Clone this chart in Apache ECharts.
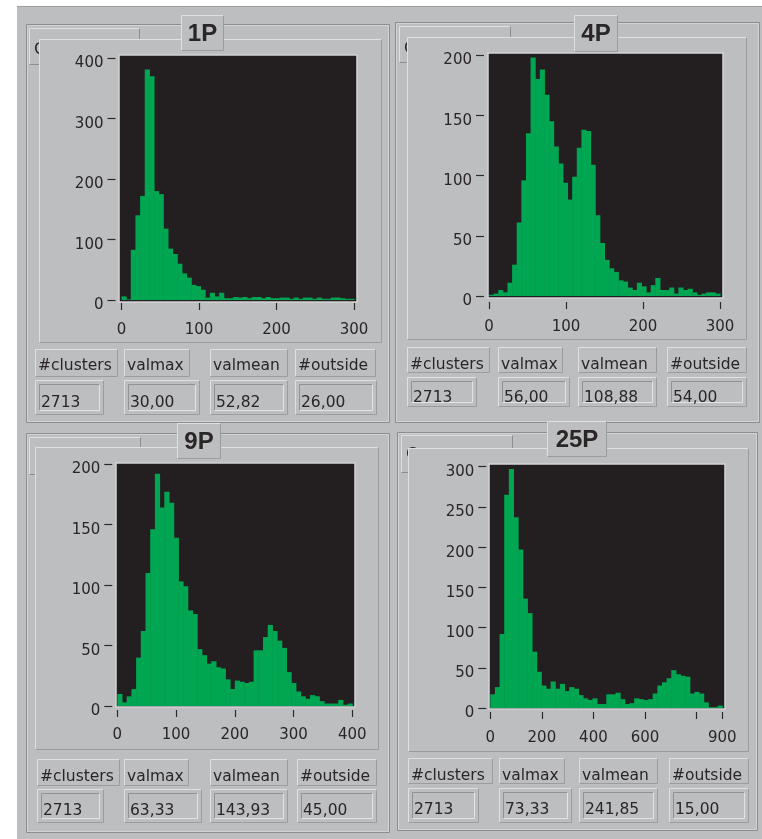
<!DOCTYPE html>
<html><head><meta charset="utf-8">
<script src="https://cdn.jsdelivr.net/npm/echarts@6/dist/echarts.min.js"></script>
<style>html,body{margin:0;padding:0;background:#fff}#c{width:762px;height:839px}</style>
</head><body><div id="c"></div>
<script>
// ---------------- DATA ----------------
const panelTitles = ['1P', '4P', '9P', '25P'];
const statNames = ['#clusters', 'valmax', 'valmean', '#outside'];
const stats1P = ['2713', '30,00', '52,82', '26,00'];
const stats4P = ['2713', '56,00', '108,88', '54,00'];
const stats9P = ['2713', '63,33', '143,93', '45,00'];
const stats25P = ['2713', '73,33', '241,85', '15,00'];

const binWidth1P = 6, binWidth4P = 6, binWidth9P = 8, binWidth25P = 18;
const counts1P = [6, 1, 83, 140, 172, 381, 370, 180, 175, 118, 85, 76, 60, 44, 37, 25, 23, 17, 4, 12,
  6, 12, 3, 3, 5, 4, 5, 3, 5, 5, 3, 5, 3, 3, 4, 4, 2, 4, 2, 4, 4, 2, 4, 2, 2, 4, 4, 3, 2, 2];
const counts4P = [1, 2, 5, 3, 11, 26, 61, 96, 135, 198, 180, 188, 167, 145, 124, 110, 94, 80, 99, 123,
  138, 137, 109, 67, 44, 30, 23, 20, 13, 12, 7, 5, 11, 8, 3, 9, 15, 5, 5, 7, 2, 7, 5, 6, 3, 1, 2, 3, 3, 2];
const counts9P = [10, 3, 8, 14, 40, 62, 110, 146, 192, 164, 177, 168, 139, 103, 99, 79, 76, 47, 42, 35,
  37, 32, 31, 22, 14, 21, 20, 19, 20, 46, 46, 57, 67, 62, 54, 48, 28, 19, 12, 8, 6, 9, 8, 4, 2, 2, 2, 5, 1, 2];
const counts25P = [17, 26, 92, 265, 297, 237, 197, 136, 118, 70, 45, 28, 24, 33, 24, 30, 21, 26, 24, 16,
  12, 10, 12, 5, 5, 17, 17, 19, 11, 5, 6, 12, 11, 10, 11, 18, 28, 32, 37, 47, 42, 40, 39, 18, 20, 18, 7, 1, 1, 3];

const xTickLabels = [[0, 100, 200, 300], [0, 100, 200, 300], [0, 100, 200, 300, 400], [0, 200, 400, 600, 900]];
const yTickLabels = [[0, 100, 200, 300, 400], [0, 50, 100, 150, 200], [0, 50, 100, 150, 200], [0, 50, 100, 150, 200, 250, 300]];
const xMax = [300, 300, 400, 900];
const yMax = [400, 200, 200, 300];
const xStep = [100, 100, 100, 200];
const yStep = [100, 50, 50, 50];

const allCounts = [counts1P, counts4P, counts9P, counts25P];
const allBinWidths = [binWidth1P, binWidth4P, binWidth9P, binWidth25P];
const allStats = [stats1P, stats4P, stats9P, stats25P];

// ---------------- LAYOUT / STYLE ----------------
const GRAY = '#bcbec0', DARK = '#231f20', GREEN = '#00a651';
const LIGHT = '#dfe0e1', SHADE = '#8b8d90', TXT = '#2a2627';
const FONT = '"DejaVu Sans", Verdana, sans-serif';

const layout = [
  { outer: [26, 24, 364, 399], back: [29, 28, 111, 37], backText: [34, 50], inner: [39, 39, 343, 304],
    title: [181, 15, 43, 36], dark: [119, 55, 238, 247],
    grid: { left: 121.5, top: 58, width: 232.5, height: 242 }, yOff: 6, xOff: 3, xMargin: 19.5,
    lab: [[35, 83], [124, 66], [210, 78], [295, 81]], labY: [349, 28], labTY: 366,
    val: [[35, 69], [124, 76], [210, 78], [295, 82]], valY: [380, 35], valTY: 403 },
  { outer: [395, 22, 365, 401], back: [399, 26, 112, 37], backText: [404, 49], inner: [407, 37, 340, 303],
    title: [574, 15, 44, 37], dark: [488, 53, 235, 245],
    grid: { left: 489, top: 55, width: 231, height: 241 }, yOff: 5, xOff: 6, xMargin: 17.5,
    lab: [[407, 83], [498, 65], [578, 79], [667, 80]], labY: [347, 26], labTY: 365,
    val: [[407, 70], [498, 72], [578, 79], [667, 80]], valY: [377, 30], valTY: 398 },
  { outer: [26, 433, 364, 400], back: [29, 437, 112, 38], backText: [37, 455], inner: [35, 447, 344, 303],
    title: [177, 423, 44, 36], dark: [116, 463, 239, 244],
    grid: { left: 117.3, top: 464, width: 235, height: 242 }, yOff: 5, xOff: 4, xMargin: 17.5,
    lab: [[37, 83], [124, 65], [210, 78], [297, 80]], labY: [759, 27], labTY: 777,
    val: [[37, 67], [124, 78], [210, 78], [297, 80]], valY: [789, 34], valTY: 811 },
  { outer: [397, 432, 361, 399], back: [401, 435, 112, 38], backText: [406, 455], inner: [408, 448, 341, 304],
    title: [547, 421, 60, 36], dark: [489, 464, 236, 245],
    grid: { left: 490.3, top: 466.7, width: 232, height: 241.3 }, yOff: 4, xOff: 4, xMargin: 18.5,
    lab: [[408, 85], [499, 66], [579, 79], [669, 80]], labY: [758, 26], labTY: 776,
    val: [[408, 71], [499, 73], [579, 79], [669, 80]], valY: [788, 35], valTY: 810 }
];

function bevel(x, y, w, h, tl, br, fill) {
  const els = [];
  if (fill) els.push({ type: 'rect', shape: { x, y, width: w, height: h }, style: { fill } });
  const X = Math.round(x) + 0.5, Y = Math.round(y) + 0.5, X2 = Math.round(x + w) - 0.5, Y2 = Math.round(y + h) - 0.5;
  els.push({ type: 'polyline', shape: { points: [[X, Y2], [X, Y], [X2, Y]] }, style: { stroke: tl, lineWidth: 1, fill: 'none' } });
  els.push({ type: 'polyline', shape: { points: [[X2, Y], [X2, Y2], [X, Y2]] }, style: { stroke: br, lineWidth: 1, fill: 'none' } });
  return els;
}
function txt(s, x, y, font, align) {
  return { type: 'text', x, y, style: { text: s, font, fill: TXT, align: align || 'left', verticalAlign: 'middle', textAlign: align || 'left', textVerticalAlign: 'middle' } };
}

const elements = [];
elements.push({ type: 'rect', shape: { x: 17, y: 6, width: 745, height: 833 }, style: { fill: GRAY } });
elements.push({ type: 'line', shape: { x1: 17, y1: 6.5, x2: 762, y2: 6.5 }, style: { stroke: '#9c9ea0', lineWidth: 1 } });

layout.forEach((L, i) => {
  const [ox, oy, ow, oh] = L.outer;
  elements.push({ type: 'rect', shape: { x: ox + 0.5, y: oy + 0.5, width: ow - 1, height: oh - 1 }, style: { fill: 'none', stroke: SHADE, lineWidth: 1 } });
  elements.push({ type: 'rect', shape: { x: ox + 1.5, y: oy + 1.5, width: ow - 3, height: oh - 3 }, style: { fill: 'none', stroke: '#d2d3d5', lineWidth: 1 } });
  const [bx, by, bw, bh] = L.back;
  elements.push(...bevel(bx, by, bw, bh, LIGHT, SHADE, GRAY));
  elements.push(txt('C', L.backText[0], L.backText[1], '16px ' + FONT));
  const [ix, iy, iw, ih] = L.inner;
  elements.push(...bevel(ix, iy, iw, ih, LIGHT, '#9a9c9f', GRAY));
  const [dx, dy, dw, dh] = L.dark;
  elements.push({ type: 'rect', z: 1, shape: { x: dx, y: dy, width: dw, height: dh }, style: { fill: DARK, stroke: '#d3d4d6', lineWidth: 1.5 } });
  const stats = allStats[i];
  L.lab.forEach((b, k) => {
    elements.push(...bevel(b[0], L.labY[0], b[1], L.labY[1], LIGHT, '#9a9c9f', GRAY));
    elements.push(txt(statNames[k], b[0] + 3, L.labTY, '15.5px ' + FONT));
  });
  L.val.forEach((b, k) => {
    elements.push(...bevel(b[0], L.valY[0], b[1], L.valY[1], LIGHT, '#9a9c9f', GRAY));
    elements.push(...bevel(b[0] + 4, L.valY[0] + 4, b[1] - 8, L.valY[1] - 8, '#8f9194', '#e2e3e4', null));
    elements.push(txt(stats[k], b[0] + 6, L.valTY, '15.5px ' + FONT));
  });
});
layout.forEach((L, i) => {
  const [tx, ty, tw, th] = L.title;
  elements.push(...bevel(tx, ty, tw, th, LIGHT, '#9a9c9f', GRAY));
  elements.push(txt(panelTitles[i], tx + tw / 2, ty + th / 2 + 1, 'bold 24px "Liberation Sans", Arial, sans-serif', 'center'));
});

const grids = [], xAxes = [], yAxes = [], series = [];
layout.forEach((L, i) => {
  grids.push(Object.assign({ containLabel: false, outerBoundsMode: 'none', show: false }, L.grid));
  const xl = xTickLabels[i], yl = yTickLabels[i];
  xAxes.push({
    gridIndex: i, type: 'value', min: 0, max: xMax[i], interval: xStep[i], position: 'bottom', offset: L.xOff, z: 10,
    axisLine: { show: true, onZero: false, lineStyle: { color: 'rgba(0,0,0,0)', width: 0 } }, splitLine: { show: false },
    axisTick: { show: true, inside: false, length: 7, lineStyle: { color: '#2a2a2a', width: 1.2 } },
    axisLabel: { show: true, showMinLabel: true, showMaxLabel: true, hideOverlap: false, margin: L.xMargin, color: TXT, fontFamily: FONT, fontSize: 15, lineHeight: 15,
      formatter: v => xl.includes(v) ? String(v) : '' }
  });
  yAxes.push({
    gridIndex: i, type: 'value', min: 0, max: yMax[i], interval: yStep[i], position: 'left', offset: L.yOff, z: 10,
    axisLine: { show: true, onZero: false, lineStyle: { color: 'rgba(0,0,0,0)', width: 0 } }, splitLine: { show: false },
    axisTick: { show: true, inside: false, length: 8, lineStyle: { color: '#2a2a2a', width: 1.2 } },
    axisLabel: { show: true, showMinLabel: true, showMaxLabel: true, hideOverlap: false, margin: 12, color: TXT, fontFamily: FONT, fontSize: 15,
      verticalAlign: 'top', lineHeight: 11, formatter: v => yl.includes(v) ? String(v) : '' }
  });
  const bwid = allBinWidths[i];
  series.push({
    type: 'custom', xAxisIndex: i, yAxisIndex: i, z: 3, clip: false, silent: true,
    data: allCounts[i].map((c, k) => [k * bwid, (k + 1) * bwid, c]),
    encode: { x: [0, 1], y: 2 },
    renderItem: (params, api) => {
      const a = api.coord([api.value(0), 0]);
      const b = api.coord([api.value(1), api.value(2)]);
      return { type: 'rect', shape: { x: a[0], y: b[1], width: b[0] - a[0] + 0.5, height: a[1] - b[1] }, style: { fill: GREEN } };
    }
  });
});

const chart = echarts.init(document.getElementById('c'), null, { renderer: 'canvas' });
chart.setOption({
  backgroundColor: '#ffffff',
  animation: false,
  graphic: { elements },
  grid: grids, xAxis: xAxes, yAxis: yAxes, series
});
</script>
</body></html>
